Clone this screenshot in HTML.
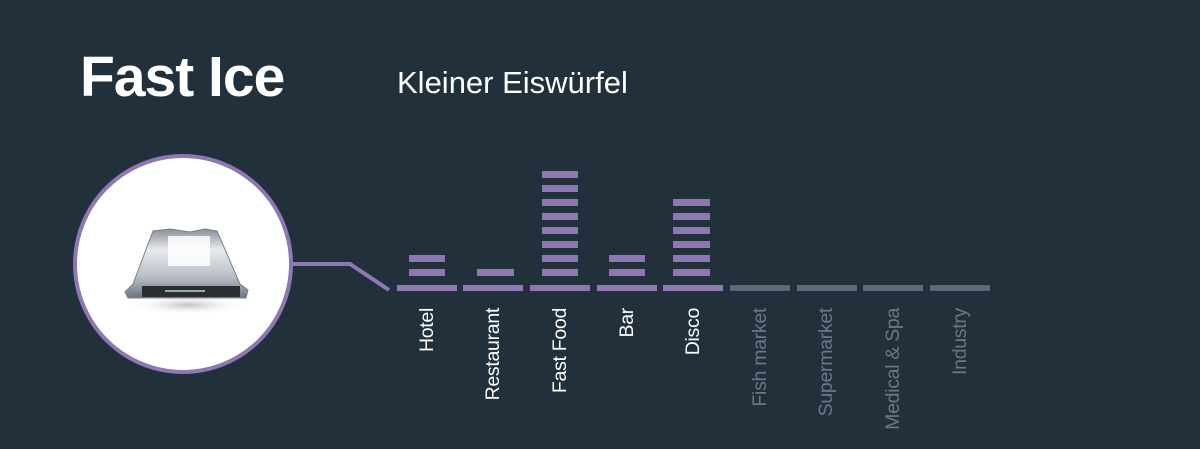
<!DOCTYPE html>
<html><head><meta charset="utf-8"><style>
html,body{margin:0;padding:0;background:#22303c;}
svg{display:block}
</style></head><body>
<svg width="1200" height="449" viewBox="0 0 1200 449" xmlns="http://www.w3.org/2000/svg">
<defs>
<radialGradient id="sh" cx="0.5" cy="0.5" r="0.5"><stop offset="0" stop-color="#999" stop-opacity="0.6"/><stop offset="1" stop-color="#fff" stop-opacity="0"/></radialGradient>
<linearGradient id="ice" x1="0" y1="0" x2="0" y2="1"><stop offset="0" stop-color="#8a9099"/><stop offset="0.3" stop-color="#e8eaee"/><stop offset="0.7" stop-color="#b8bdc5"/><stop offset="1" stop-color="#6d737c"/></linearGradient>
</defs>
<rect width="1200" height="449" fill="#22303c"/>
<text x="80" y="96" font-family="Liberation Sans, sans-serif" font-weight="bold" font-size="57" fill="#fff" letter-spacing="-1">Fast Ice</text>
<text x="397" y="93" font-family="Liberation Sans, sans-serif" font-size="31" fill="#fff" letter-spacing="0">Kleiner Eiswürfel</text>
<polyline points="290,264 350,264 389,290" fill="none" stroke="#8e78b3" stroke-width="4"/>
<circle cx="183" cy="264" r="108" fill="#fff" stroke="#8e78b3" stroke-width="4"/>
<ellipse cx="188" cy="305" rx="60" ry="10" fill="url(#sh)"/>
<polygon points="153,231 170,229 190,232 205,229 217,231 240,284 248,290 246,298 128,298 125,292 133,284" fill="url(#ice)" stroke="#7a8088" stroke-width="1"/>
<rect x="168" y="236" width="42" height="30" fill="#fff" opacity="0.85"/>
<rect x="142" y="286" width="98" height="11" fill="#2a2e33"/>
<rect x="165" y="290" width="40" height="2" fill="#9aa"/>
<g fill="#8e78b3">
<rect x="397" y="285" width="60" height="6"/>
<rect x="463" y="285" width="60" height="6"/>
<rect x="530" y="285" width="60" height="6"/>
<rect x="597" y="285" width="60" height="6"/>
<rect x="663" y="285" width="60" height="6"/>
</g>
<g fill="#5d6878">
<rect x="730" y="285" width="60" height="6"/>
<rect x="797" y="285" width="60" height="6"/>
<rect x="863" y="285" width="60" height="6"/>
<rect x="930" y="285" width="60" height="6"/>
</g>
<g fill="#8e78b3">
<rect x="409" y="269" width="36" height="7"/><rect x="409" y="255" width="36" height="7"/>
<rect x="477" y="269" width="37" height="7"/>
<rect x="542" y="269" width="36" height="7"/><rect x="542" y="255" width="36" height="7"/><rect x="542" y="241" width="36" height="7"/><rect x="542" y="227" width="36" height="7"/><rect x="542" y="213" width="36" height="7"/><rect x="542" y="199" width="36" height="7"/><rect x="542" y="185" width="36" height="7"/><rect x="542" y="171" width="36" height="7"/>
<rect x="609" y="269" width="36" height="7"/><rect x="609" y="255" width="36" height="7"/>
<rect x="673" y="269" width="37" height="7"/><rect x="673" y="255" width="37" height="7"/><rect x="673" y="241" width="37" height="7"/><rect x="673" y="227" width="37" height="7"/><rect x="673" y="213" width="37" height="7"/><rect x="673" y="199" width="37" height="7"/>
</g>
<g font-family="Liberation Sans, sans-serif" font-size="19.5" text-anchor="end" letter-spacing="-0.3">
<text transform="translate(433,308) rotate(-90)" fill="#fff">Hotel</text>
<text transform="translate(499,308) rotate(-90)" fill="#fff">Restaurant</text>
<text transform="translate(566,308) rotate(-90)" fill="#fff">Fast Food</text>
<text transform="translate(633,308) rotate(-90)" fill="#fff">Bar</text>
<text transform="translate(699,308) rotate(-90)" fill="#fff">Disco</text>
<text transform="translate(766,308) rotate(-90)" fill="#6b7785">Fish market</text>
<text transform="translate(832,308) rotate(-90)" fill="#6b7785">Supermarket</text>
<text transform="translate(899,308) rotate(-90)" fill="#6b7785">Medical &amp; Spa</text>
<text transform="translate(966,308) rotate(-90)" fill="#6b7785">Industry</text>
</g>
</svg>
</body></html>
